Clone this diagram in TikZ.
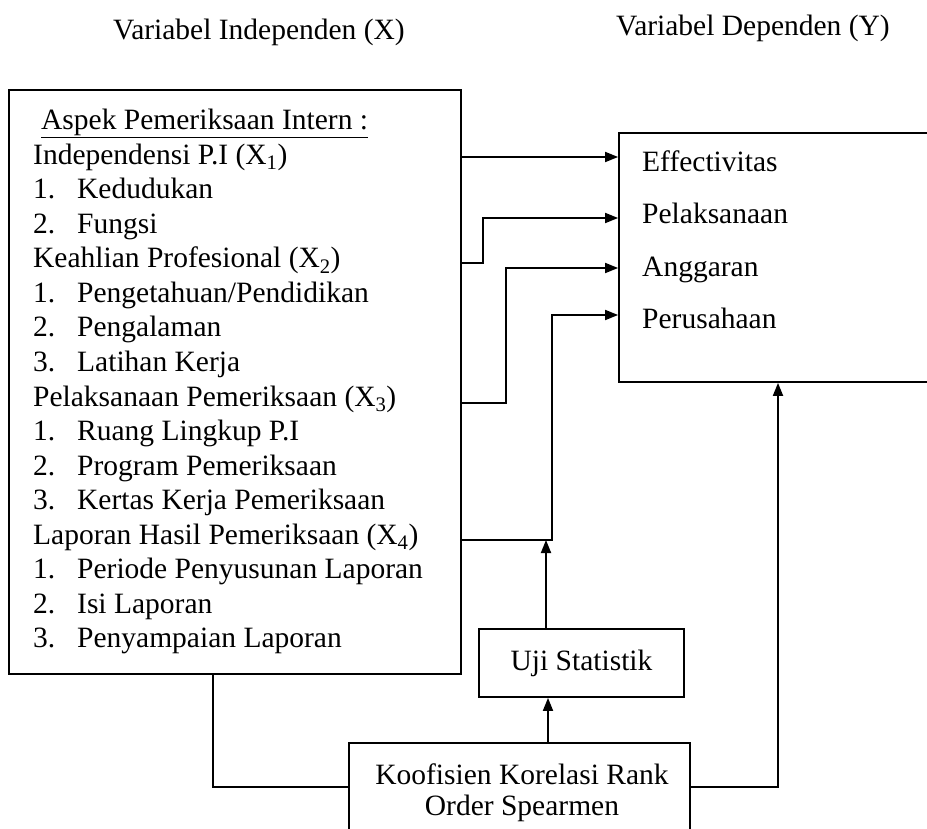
\documentclass[tikz,border=0pt]{standalone}
\usepackage{fontspec}
\setmainfont{Liberation Serif}
\usetikzlibrary{arrows.meta}
\begin{document}
\begin{tikzpicture}[x=1pt,y=-1pt,
  every node/.style={font=\fontsize{29.5}{34.5}\selectfont},
  box/.style={draw, line width=1.8pt, inner sep=0pt},
  txt/.style={inner sep=0pt, anchor=base west},
  conn/.style={line width=1.8pt},
  arr/.style={conn, -{Triangle[length=13pt,width=10pt]}}]
\useasboundingbox (0,0) rectangle (927,829);
\clip (0,0) rectangle (927,829);
% titles
\node[anchor=base, inner sep=0pt] (tx) at (259,40) {Variabel Independen (X)};
\node[anchor=base, inner sep=0pt] (ty) at (753,36) {Variabel Dependen (Y)};
% left box
\node[box, minimum width=452pt, minimum height=584pt] (lbox) at (235,382) {};
\node[txt] (l1) at (41,130) {\underline{Aspek Pemeriksaan Intern :}};
\foreach \t [count=\i from 2] in {
  {Independensi P.I (X\textsubscript{1})},
  {\makebox[44pt][l]{1.}Kedudukan},
  {\makebox[44pt][l]{2.}Fungsi},
  {Keahlian Profesional (X\textsubscript{2})},
  {\makebox[44pt][l]{1.}Pengetahuan/Pendidikan},
  {\makebox[44pt][l]{2.}Pengalaman},
  {\makebox[44pt][l]{3.}Latihan Kerja},
  {Pelaksanaan Pemeriksaan (X\textsubscript{3})},
  {\makebox[44pt][l]{1.}Ruang Lingkup P.I},
  {\makebox[44pt][l]{2.}Program Pemeriksaan},
  {\makebox[44pt][l]{3.}Kertas Kerja Pemeriksaan},
  {Laporan Hasil Pemeriksaan (X\textsubscript{4})},
  {\makebox[44pt][l]{1.}Periode Penyusunan Laporan},
  {\makebox[44pt][l]{2.}Isi Laporan},
  {\makebox[44pt][l]{3.}Penyampaian Laporan}}
  \node[txt] (l\i) at (33,{130+34.5*(\i-1)}) {\t};
% right box
\node[box, minimum width=321pt, minimum height=249pt] (rbox) at (779.5,257.5) {};
\node[txt] (y1) at (642,172) {Effectivitas};
\node[txt] (y2) at (642,224) {Pelaksanaan};
\node[txt] (y3) at (642,277) {Anggaran};
\node[txt] (y4) at (642,328) {Perusahaan};
% bottom boxes
\node[box, minimum width=205pt, minimum height=68pt] (uji) at (581.5,663) {Uji Statistik};
\node[box, minimum width=341pt, minimum height=88pt] (koof) at (519.5,787) {};
\node[align=center, inner sep=0pt, font=\fontsize{29.5}{31}\selectfont] (kt) at (522,793) {Koofisien Korelasi Rank\\Order Spearmen};
% junction coordinates
\coordinate (j2) at (483,218);
\coordinate (j3) at (506,268);
\coordinate (j4) at (552,315);
\coordinate (u) at (546,540);
\coordinate (k) at (548,720);
% connectors
\draw[arr] (lbox.east |- 0,157) -- (rbox.west |- 0,157);
\draw[arr] (lbox.east |- 0,263) -| (j2) -- (j2 -| rbox.west);
\draw[arr] (lbox.east |- 0,403) -| (j3) -- (j3 -| rbox.west);
\draw[arr] (lbox.east |- 0,540) -| (j4) -- (j4 -| rbox.west);
\draw[arr] (u |- uji.north) -- (u);
\draw[arr] (k |- koof.north) -- (k |- uji.south);
\draw[conn] (lbox.south -| 213,0) |- (koof.west);
\draw[arr] (koof.east) -| (rbox.south -| 778,0);
\end{tikzpicture}
\end{document}
